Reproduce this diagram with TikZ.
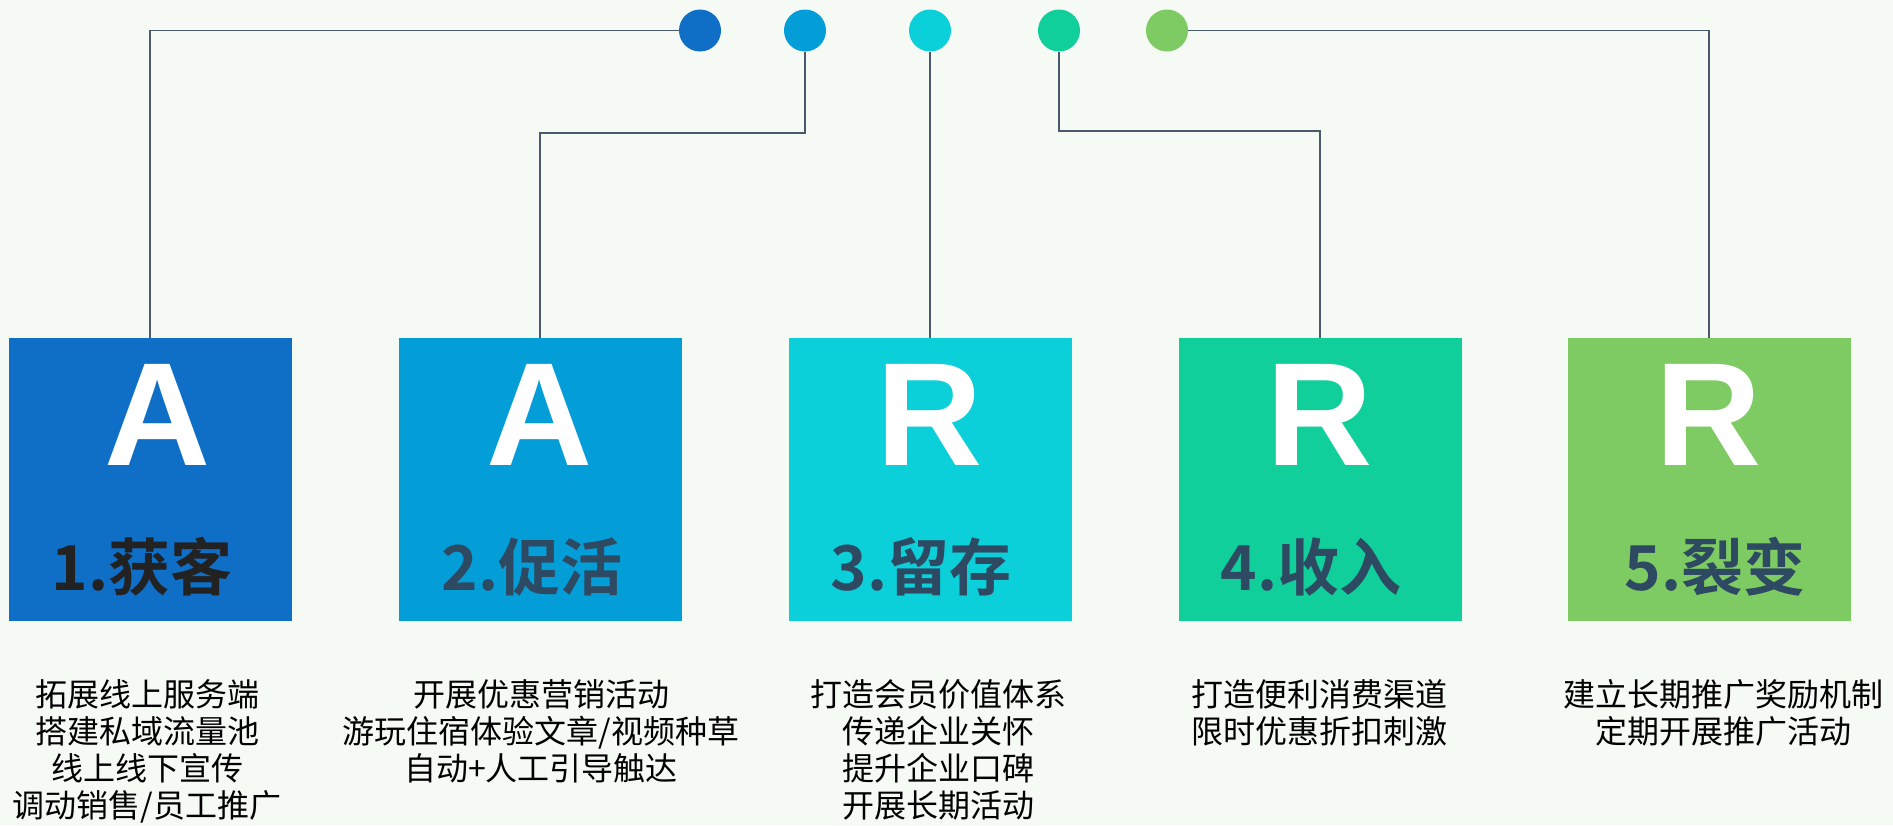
\documentclass[tikz,border=0pt]{standalone}
\usepackage{fontspec}
\newfontfamily\cjk{Noto Sans CJK SC}
\newfontfamily\cjkb{Noto Sans CJK SC Bold}
\newfontfamily\lettfont{Liberation Sans}[BoldFont=* Bold]
\definecolor{bgc}{HTML}{F6FAF5}
\definecolor{colA}{HTML}{0F6EC6}
\definecolor{colB}{HTML}{039DD8}
\definecolor{colC}{HTML}{0BCFD9}
\definecolor{colD}{HTML}{10CF9A}
\definecolor{colE}{HTML}{7DCB62}
\definecolor{linec}{HTML}{4A5A6E}
\definecolor{titc}{HTML}{2E4A62}
\definecolor{titk}{HTML}{222222}
\begin{document}
\begin{tikzpicture}[x=1pt,y=-1pt,
  dot/.style={circle,minimum size=42pt,inner sep=0pt},
  stagebox/.style={rectangle,minimum width=283pt,minimum height=283pt,inner sep=0pt},
  conn/.style={draw=linec,line width=1.2pt},
  letter/.style={text=white,font=\lettfont\bfseries\fontsize{147}{150}\selectfont,anchor=base,inner sep=0pt},
  title/.style={font=\cjkb\fontsize{62}{66}\selectfont,anchor=base,inner sep=0pt},
  desc/.style={font=\cjk\fontsize{32}{37}\selectfont,align=center,anchor=north,inner sep=0pt,text=black}]
\useasboundingbox (0,0) rectangle (1893,825);
\fill[bgc] (0,0) rectangle (1893,825);
% dots
\node[dot,fill=colA] (c1) at (700,30.5) {};
\node[dot,fill=colB] (c2) at (805,30.5) {};
\node[dot,fill=colC] (c3) at (930,30.5) {};
\node[dot,fill=colD] (c4) at (1059,30.5) {};
\node[dot,fill=colE] (c5) at (1167,30.5) {};
% boxes
\node[stagebox,fill=colA] (b1) at (150,479.5) {};
\node[stagebox,fill=colB] (b2) at (540,479.5) {};
\node[stagebox,fill=colC] (b3) at (930,479.5) {};
\node[stagebox,fill=colD] (b4) at (1320,479.5) {};
\node[stagebox,fill=colE] (b5) at (1709,479.5) {};
% connectors
\coordinate (k2) at (540,133);
\coordinate (k4) at (1320,131);
\draw[conn] (c1.west) -| (b1.north);
\draw[conn] (c2.south) |- (k2) -- (b2.north);
\draw[conn] (c3.south) -- (b3.north);
\draw[conn] (c4.south) |- (k4) -- (b4.north);
\draw[conn] (c5.east) -| (b5.north);
% letters
\node[letter] (l1) at (158,465) {A};
\node[letter] (l2) at (540,465) {A};
\node[letter] (l3) at (930,465) {R};
\node[letter] (l4) at (1320,465) {R};
\node[letter] (l5) at (1709,465) {R};
% titles
\node[title,text=titk] (t1) at (142,590) {1.获客};
\node[title,text=titc] (t2) at (532,590) {2.促活};
\node[title,text=titc] (t3) at (921,590) {3.留存};
\node[title,text=titc] (t4) at (1311,590) {4.收入};
\node[title,text=titc] (t5) at (1715,590) {5.裂变};
% descriptions
\node[desc] (d1) at (147,679) {拓展线上服务端\\搭建私域流量池\\线上线下宣传\\调动销售/员工推广};
\node[desc] (d2) at (541,679) {开展优惠营销活动\\游玩住宿体验文章/视频种草\\自动+人工引导触达};
\node[desc] (d3) at (938,679) {打造会员价值体系\\传递企业关怀\\提升企业口碑\\开展长期活动};
\node[desc] (d4) at (1319,679) {打造便利消费渠道\\限时优惠折扣刺激};
\node[desc] (d5) at (1723,679) {建立长期推广奖励机制\\定期开展推广活动};
\end{tikzpicture}
\end{document}
